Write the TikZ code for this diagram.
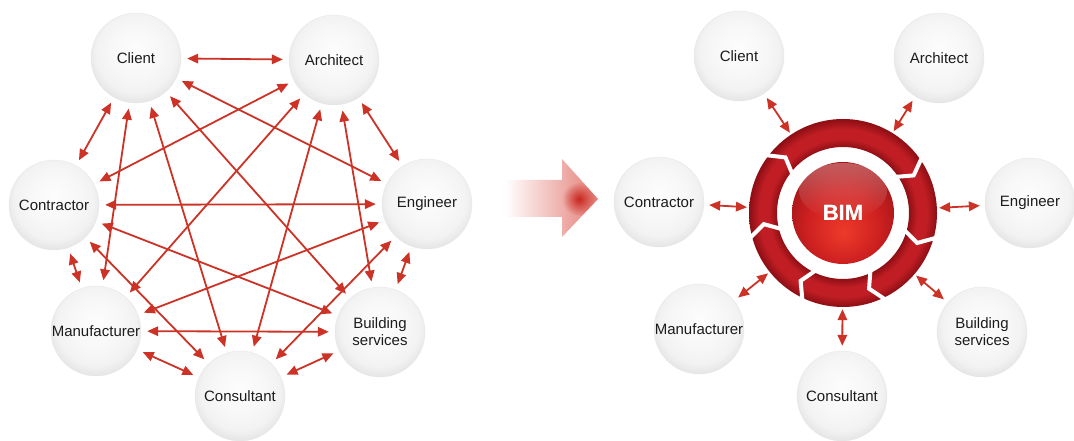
\documentclass[tikz,border=0pt]{standalone}
\usepackage{fontspec}
\setmainfont{Liberation Sans}
\usetikzlibrary{arrows.meta,fadings,shadings}

\definecolor{arr}{RGB}{204,50,38}
\definecolor{txt}{RGB}{28,28,28}
\definecolor{ringdark}{RGB}{140,14,20}
\definecolor{ringmid}{RGB}{192,30,36}
\definecolor{ballhi}{RGB}{238,58,42}
\definecolor{ballmid}{RGB}{205,32,32}
\definecolor{balledge}{RGB}{150,18,22}
\definecolor{arrpink}{RGB}{228,125,118}
\definecolor{blob}{RGB}{200,38,30}

\pgfdeclareradialshading{glass}{\pgfpoint{0bp}{5bp}}{color(0bp)=(black!1); color(14bp)=(black!3); color(22bp)=(black!5); color(26bp)=(black!9); color(30bp)=(black!13); color(50bp)=(black!13)}
\pgfdeclareradialshading{bimring}{\pgfpoint{0bp}{0bp}}{color(0bp)=(ringdark); color(17.4bp)=(ringdark); color(19.8bp)=(ringmid); color(22.3bp)=(ringmid); color(25bp)=(ringdark); color(50bp)=(ringdark)}
\pgfdeclareradialshading{bimball}{\pgfpoint{0bp}{-10bp}}{color(0bp)=(ballhi); color(18bp)=(ballmid); color(33bp)=(balledge); color(50bp)=(balledge)}
\tikzfading[name=blobfade, inner color=transparent!0, outer color=transparent!100]

\tikzset{
  sphere/.style={circle, minimum size=90pt, inner sep=0pt, shading=glass, draw=black!9, line width=0.4pt, text=txt, font=\fontsize{15}{17}\selectfont, align=center},
  link/.style={draw=arr, line width=1.8pt, {Triangle[length=11pt,width=9.5pt]}-{Triangle[length=11pt,width=9.5pt]}, shorten <=6pt, shorten >=6pt},
  hublink/.style={link, shorten <=5pt, shorten >=2pt},
  gapline/.style={draw=white, line width=4pt, line join=miter},
}

\begin{document}
\begin{tikzpicture}[x=1pt,y=1pt]
\useasboundingbox (0,0) rectangle (1074,441);

% ---------- left: everyone talks to everyone ----------
\node[sphere] (LClient) at (136,383) {Client};
\node[sphere] (LArch)   at (334,381) {Architect};
\node[sphere] (LContr)  at (54,236)  {Contractor};
\node[sphere] (LEng)    at (427,237) {Engineer};
\node[sphere] (LManu)   at (96,110)  {Manufacturer};
\node[sphere] (LBuild)  at (380,109) {Building\\services};
\node[sphere] (LCons)   at (240,45)  {Consultant};

\foreach \a/\b in {LClient/LArch, LClient/LContr, LClient/LEng, LClient/LManu,
  LClient/LCons, LClient/LBuild, LArch/LEng, LArch/LContr, LArch/LManu,
  LArch/LCons, LArch/LBuild, LContr/LEng, LContr/LManu, LContr/LBuild,
  LContr/LCons, LEng/LManu, LEng/LBuild, LEng/LCons, LManu/LBuild,
  LManu/LCons, LBuild/LCons}
  \draw[link] (\a) -- (\b);

% ---------- middle arrow ----------
\shade[left color=white, right color=arrpink]
  (505,261) -- (562,261) -- (562,282) -- (598,242) -- (562,204) -- (562,224) -- (505,224) -- cycle;
\begin{scope}
  \clip (505,261) -- (562,261) -- (562,282) -- (598,242) -- (562,204) -- (562,224) -- (505,224) -- cycle;
  \fill[blob, path fading=blobfade] (579,242) circle (17);
\end{scope}

% ---------- right: BIM hub ----------
\node[circle, minimum size=188pt, inner sep=0pt] (ring) at (843,228) {};
\shade[shading=bimring, even odd rule] (843,228) circle (94) (843,228) circle (66);
\foreach \g [evaluate=\g as \h using \g-8] in {144,36,-14,-63,-114,-164}
  \draw[gapline] ([shift={(843,228)}]\g:99) -- ([shift={(843,228)}]\h:80) -- ([shift={(843,228)}]\g:61);

\node[circle, minimum size=102pt, inner sep=0pt, shading=bimball, text=white,
      font=\bfseries\fontsize{22}{24}\selectfont] (bim) at (843,228) {BIM};
\fill[white, fill opacity=0.3, path fading=south] (843,250) ellipse (44 and 28);
\node[text=white, font=\bfseries\fontsize{22}{24}\selectfont] (bimtext) at (bim.center) {BIM};

\node[sphere] (RClient) at (739,385) {Client};
\node[sphere] (RArch)   at (939,383) {Architect};
\node[sphere] (RContr)  at (659,239) {Contractor};
\node[sphere] (REng)    at (1030,238) {Engineer};
\node[sphere] (RManu)   at (699,112) {Manufacturer};
\node[sphere] (RBuild)  at (982,109) {Building\\services};
\node[sphere] (RCons)   at (842,45)  {Consultant};

\foreach \n in {RClient,RArch,RContr,REng,RManu,RBuild,RCons}
  \draw[hublink] (\n) -- (ring);
\end{tikzpicture}
\end{document}
